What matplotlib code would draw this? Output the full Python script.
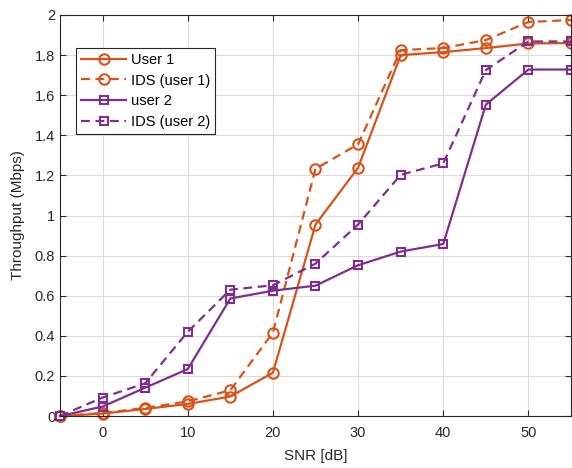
import matplotlib.pyplot as plt
import numpy as np

plt.rcParams['font.family'] = ['Liberation Sans', 'DejaVu Sans']

snr = [-5, 0, 5, 10, 15, 20, 25, 30, 35, 40, 45, 50, 55]
user1 = [0, 0.012, 0.035, 0.06, 0.097, 0.216, 0.955, 1.238, 1.80, 1.815, 1.835, 1.858, 1.86]
ids_user1 = [0, 0.015, 0.04, 0.073, 0.128, 0.416, 1.233, 1.355, 1.825, 1.835, 1.875, 1.965, 1.975]
user2 = [0, 0.047, 0.141, 0.234, 0.586, 0.625, 0.65, 0.752, 0.82, 0.858, 1.553, 1.728, 1.728]
ids_user2 = [0, 0.092, 0.163, 0.42, 0.63, 0.652, 0.76, 0.955, 1.203, 1.26, 1.725, 1.868, 1.868]

orange = '#D95319'
purple = '#7E2F8E'

fig = plt.figure(figsize=(5.72, 4.68), dpi=100)
ax = fig.add_axes([60/572, 1-416/468, 511/572, 401/468])

ax.plot(snr, user1, '-o', color=orange, lw=1.6, ms=7.5, mfc='none', mew=1.5, label='User 1', clip_on=False)
ax.plot(snr, ids_user1, '--o', color=orange, lw=1.6, ms=7.5, mfc='none', mew=1.5, label='IDS (user 1)', dashes=(4, 2.5), clip_on=False)
ax.plot(snr, user2, '-s', color=purple, lw=1.6, ms=6, mfc='none', mew=1.5, label='user 2', clip_on=False)
ax.plot(snr, ids_user2, '--s', color=purple, lw=1.6, ms=6, mfc='none', mew=1.5, label='IDS (user 2)', dashes=(4, 2.5), clip_on=False)

ax.set_xlim(-5, 55)
ax.set_ylim(0, 2)
ax.set_xticks([0, 10, 20, 30, 40, 50])
yt = np.round(np.arange(0, 2.01, 0.2), 1)
ax.set_yticks(yt)
ax.set_yticklabels(['0' if v == 0 else ('%g' % v) for v in yt])
ax.grid(True, color='#dcdcdc', lw=0.8)
ax.set_axisbelow(True)
ax.tick_params(direction='in', top=True, right=True, labelsize=10.5, colors='#262626', length=4)
ax.tick_params(axis='x', pad=7)
for s in ax.spines.values():
    s.set_color('#262626')
    s.set_linewidth(0.8)

ax.set_xlabel('SNR [dB]', fontsize=11, color='#262626', labelpad=7)
ax.set_ylabel('Throughput (Mbps)', fontsize=11, color='#262626', labelpad=7)

leg = ax.legend(loc='upper left', bbox_to_anchor=(0.031, 0.918), fontsize=10.5,
                frameon=True, fancybox=False, edgecolor='#262626', framealpha=1,
                borderpad=0.35, labelspacing=0.45, handlelength=3.1, handletextpad=0.3,
                borderaxespad=0)
leg.get_frame().set_linewidth(0.8)

fig.savefig('out.png', dpi=100)
